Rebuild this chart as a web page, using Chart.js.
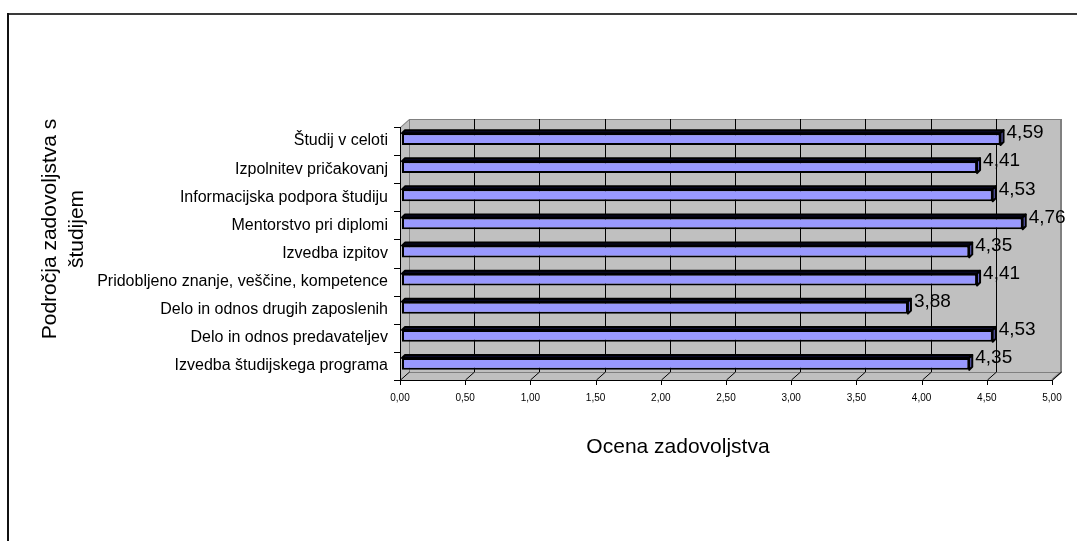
<!DOCTYPE html>
<html>
<head>
<meta charset="utf-8">
<script src="https://cdn.jsdelivr.net/npm/chart.js@4.4.1/dist/chart.umd.min.js"></script>
<style>
  html, body { margin: 0; padding: 0; background: #fff; overflow: hidden; }
  canvas { display: block; }
</style>
</head>
<body>
<canvas id="c" width="1077" height="541"></canvas>
<script>
// Satisfaction areas, listed top to bottom
const categories = [
  'Študij v celoti',
  'Izpolnitev pričakovanj',
  'Informacijska podpora študiju',
  'Mentorstvo pri diplomi',
  'Izvedba izpitov',
  'Pridobljeno znanje, veščine, kompetence',
  'Delo in odnos drugih zaposlenih',
  'Delo in odnos predavateljev',
  'Izvedba študijskega programa'
];
// Average satisfaction score per area
const scores = [4.59, 4.41, 4.53, 4.76, 4.35, 4.41, 3.88, 4.53, 4.35];
// Values shown on the score axis
const xTickValues = [0, 0.5, 1, 1.5, 2, 2.5, 3, 3.5, 4, 4.5, 5];
const xAxisTitle = 'Ocena zadovoljstva';
const yAxisTitle = ['Področja zadovoljstva s', 'študijem'];

const FONT = "'Liberation Sans', Arial, Helvetica, sans-serif";
const DX = 9, DY = 8;          // depth of the 3-D box
const BAR_SHIFT = 2;           // bars sit a little into the box depth
const BAR_DEPTH = 3;           // thickness of the bar's top/side faces
const fmt = v => v.toFixed(2).replace('.', ',');

function poly(ctx, pts) {
  ctx.beginPath();
  ctx.moveTo(pts[0][0], pts[0][1]);
  for (let i = 1; i < pts.length; i++) ctx.lineTo(pts[i][0], pts[i][1]);
  ctx.closePath();
}

// Page frame, grey 3-D walls, floor, gridlines and axis lines
const wallsPlugin = {
  id: 'walls',
  beforeDraw(chart) {
    const ctx = chart.ctx, a = chart.chartArea;
    const xs = chart.scales.x, ys = chart.scales.y;
    const x0 = xs.getPixelForValue(xTickValues[0]);
    const x1 = xs.getPixelForValue(xTickValues[xTickValues.length - 1]);
    const top = a.top, bot = a.bottom;
    ctx.save();
    ctx.fillStyle = '#ffffff';
    ctx.fillRect(0, 0, chart.width, chart.height);

    // frame
    ctx.fillStyle = '#3a3a3a';
    ctx.fillRect(7, 13, chart.width - 7, 2);
    ctx.fillStyle = '#111111';
    ctx.fillRect(7, 13, 2, chart.height - 13);

    // walls
    ctx.fillStyle = '#c0c0c0';
    ctx.fillRect(x0 + DX, top - DY, x1 - x0, bot - top);
    poly(ctx, [[x0, top], [x0 + DX, top - DY], [x0 + DX, bot - DY], [x0, bot]]);
    ctx.fill();
    poly(ctx, [[x0, bot], [x0 + DX, bot - DY], [x1 + DX, bot - DY], [x1, bot]]);
    ctx.fill();

    // wall edges
    ctx.strokeStyle = '#808080';
    ctx.lineWidth = 1;
    ctx.strokeRect(x0 + DX + 0.5, top - DY + 0.5, x1 - x0, bot - top);
    ctx.beginPath();
    ctx.moveTo(x0 + 0.5, top + 0.5); ctx.lineTo(x0 + DX + 0.5, top - DY + 0.5);
    ctx.stroke();
    ctx.lineWidth = 2;
    ctx.beginPath();
    ctx.moveTo(x1 + DX, top - DY); ctx.lineTo(x1 + DX, bot - DY); ctx.lineTo(x1, bot);
    ctx.stroke();

    // gridlines on the back wall and floor
    ctx.strokeStyle = '#000000';
    ctx.lineWidth = 1;
    xTickValues.forEach(v => {
      const px = Math.round(xs.getPixelForValue(v)) + 0.5;
      if (v > xTickValues[0] && v < xTickValues[xTickValues.length - 1]) {
        ctx.beginPath();
        ctx.moveTo(px + DX, top - DY); ctx.lineTo(px + DX, bot - DY);
        ctx.stroke();
      }
      ctx.beginPath();
      ctx.moveTo(px, bot); ctx.lineTo(px + DX, bot - DY);
      ctx.stroke();
      ctx.beginPath();
      ctx.moveTo(px, bot); ctx.lineTo(px, bot + 5);
      ctx.stroke();
    });

    // axis lines
    ctx.beginPath();
    ctx.moveTo(x0, bot + 0.5); ctx.lineTo(x1, bot + 0.5);
    ctx.moveTo(x0 + 0.5, top); ctx.lineTo(x0 + 0.5, bot);
    ctx.stroke();

    // category separators on the left axis
    const step = (ys.getPixelForValue(1) - ys.getPixelForValue(0));
    for (let k = 0; k <= categories.length; k++) {
      const y = Math.round(ys.getPixelForValue(k) - step / 2) + 0.5;
      ctx.beginPath();
      ctx.moveTo(x0 - 6, y); ctx.lineTo(x0, y);
      ctx.stroke();
    }
    ctx.restore();
  },
  beforeDatasetsDraw(chart) {
    chart.ctx.save();
    chart.ctx.translate(BAR_SHIFT, -BAR_SHIFT);
  },
  afterDatasetsDraw(chart) {
    const ctx = chart.ctx;
    const d = BAR_DEPTH;
    chart.getDatasetMeta(0).data.forEach(bar => {
      const p = bar.getProps(['x', 'y', 'base', 'height'], true);
      const t = p.y - p.height / 2, b = p.y + p.height / 2;
      ctx.lineWidth = 2;
      ctx.lineJoin = 'round';
      ctx.strokeStyle = '#000000';
      ctx.fillStyle = '#0a0a2a';
      poly(ctx, [[p.base, t], [p.base + d, t - d], [p.x + d, t - d], [p.x, t]]);
      ctx.fill(); ctx.stroke();
      ctx.fillStyle = '#6a6ad0';
      poly(ctx, [[p.x, t], [p.x + d, t - d], [p.x + d, b - d], [p.x, b]]);
      ctx.fill(); ctx.stroke();
    });
    ctx.restore();

    // value labels
    ctx.save();
    ctx.fillStyle = '#000';
    ctx.font = '19px ' + FONT;
    ctx.textAlign = 'left';
    ctx.textBaseline = 'middle';
    chart.getDatasetMeta(0).data.forEach((bar, i) => {
      ctx.fillText(fmt(scores[i]), bar.x + BAR_SHIFT + 6, bar.y - BAR_SHIFT - 6);
    });
    ctx.restore();
  },
  afterDraw(chart) {
    const ctx = chart.ctx;
    ctx.save();
    ctx.fillStyle = '#000';
    ctx.font = '21px ' + FONT;
    ctx.textAlign = 'center';
    ctx.textBaseline = 'middle';
    ctx.fillText(xAxisTitle, 678, 447);
    ctx.translate(50, 229);
    ctx.rotate(-Math.PI / 2);
    yAxisTitle.forEach((line, i) => ctx.fillText(line, 0, i * 27));
    ctx.restore();
  }
};

new Chart(document.getElementById('c'), {
  type: 'bar',
  data: {
    labels: categories,
    datasets: [{
      data: scores,
      backgroundColor: '#9999ff',
      borderColor: '#000000',
      borderWidth: 2,
      borderSkipped: false,
      barPercentage: 0.42,
      categoryPercentage: 1
    }]
  },
  options: {
    indexAxis: 'y',
    responsive: false,
    animation: false,
    devicePixelRatio: 1,
    layout: { padding: { top: 127, right: 25, left: 0, bottom: 0 } },
    plugins: { legend: { display: false }, tooltip: { enabled: false } },
    scales: {
      x: {
        type: 'linear',
        min: 0,
        max: 5,
        afterBuildTicks: s => { s.ticks = xTickValues.map(v => ({ value: v })); },
        afterFit: s => { s.height = 161; },
        grid: { display: false, drawTicks: false },
        border: { display: false },
        ticks: {
          callback: v => fmt(v),
          color: '#000',
          font: { family: FONT, size: 10 },
          padding: 12,
          maxRotation: 0,
          autoSkip: false
        }
      },
      y: {
        afterFit: s => { s.width = 400; },
        grid: { display: false, drawTicks: false },
        border: { display: false },
        ticks: {
          color: '#000',
          font: { family: FONT, size: 16 },
          padding: 12,
          autoSkip: false
        }
      }
    }
  },
  plugins: [wallsPlugin]
});
</script>
</body>
</html>
